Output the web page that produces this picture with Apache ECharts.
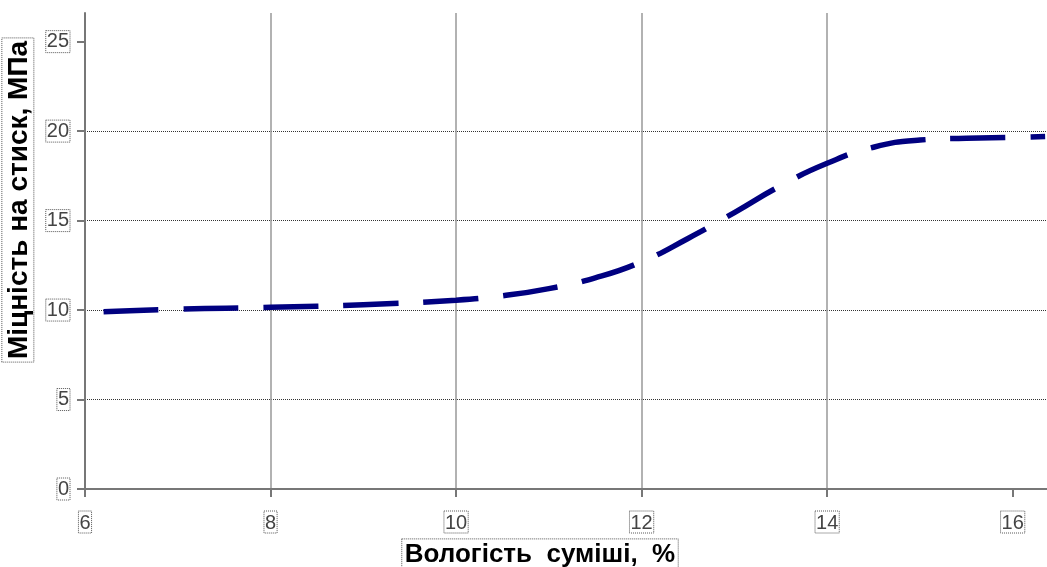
<!DOCTYPE html>
<html>
<head>
<meta charset="utf-8">
<script src="https://cdn.jsdelivr.net/npm/echarts@6/dist/echarts.min.js"></script>
<style>html,body{margin:0;padding:0;background:#fff}#c{width:1047px;height:567px}</style>
</head>
<body>
<div id="c"></div>
<script>
const xValues = [6.2, 7, 8, 9, 10, 10.5, 11, 11.5, 12, 12.5, 13, 13.5, 14, 14.5, 15, 15.5, 16, 16.35];
const yValues = [9.9, 10.05, 10.15, 10.3, 10.55, 10.8, 11.2, 11.8, 12.7, 14.0, 15.45, 16.95, 18.2, 19.1, 19.5, 19.6, 19.65, 19.7];
const xTicks = [6, 8, 10, 12, 14, 16];
const yTicks = [0, 5, 10, 15, 20, 25];
const xTitle = 'Вологість  суміші,  %';
const yTitle = 'Міцність на стиск, МПа';

const boxLabel = {
  fontFamily: 'Liberation Sans, Arial, sans-serif',
  fontSize: 20,
  color: '#444',
  borderColor: '#555',
  borderWidth: 1,
  borderType: 'dotted',
  padding: [2, 1, 0, 1]
};

const chart = echarts.init(document.getElementById('c'), null, {renderer: 'canvas'});
chart.setOption({
  animation: false,
  backgroundColor: '#fff',
  grid: {left: 85, right: 0, top: 13, bottom: 78, containLabel: false, outerBoundsMode: 'none'},
  xAxis: {
    type: 'value', min: 6, max: 16.37, interval: 2,
    axisLine: {show: true, onZero: false, lineStyle: {color: '#777', width: 2}},
    axisTick: {show: true, length: 8, customValues: xTicks, lineStyle: {color: '#777', width: 2}},
    axisLabel: Object.assign({margin: 22, customValues: xTicks}, boxLabel),
    splitLine: {show: true, showMinLine: false, showMaxLine: false, lineStyle: {color: '#999', width: 1.5, type: 'solid'}},
    name: '{t|' + xTitle + '}{sp| }',
    nameLocation: 'middle',
    nameGap: 49,
    nameTextStyle: {
      rich: {
        t: {fontFamily: 'Liberation Sans, Arial, sans-serif', fontSize: 26, fontWeight: 'bold', color: '#000',
            borderColor: '#555', borderWidth: 1, borderType: 'dotted', padding: [3, 3, 1, 3]},
        sp: {width: 52, fontSize: 26}
      }
    }
  },
  yAxis: {
    type: 'value', min: 0, max: 26.6, interval: 5,
    axisLine: {show: true, onZero: false, lineStyle: {color: '#777', width: 2}},
    axisTick: {show: true, length: 8, customValues: yTicks, lineStyle: {color: '#777', width: 2}},
    axisLabel: Object.assign({margin: 15, customValues: yTicks}, boxLabel),
    splitLine: {show: true, showMinLine: false, showMaxLine: false, lineStyle: {color: '#333', width: 1, type: [1, 1]}},
    name: '{sp| }{t|' + yTitle + '}',
    nameLocation: 'middle',
    nameGap: 48,
    nameRotate: 90,
    nameTextStyle: {
      rich: {
        t: {fontFamily: 'Liberation Sans, Arial, sans-serif', fontSize: 28, fontWeight: 'bold', color: '#000',
            borderColor: '#555', borderWidth: 1, borderType: 'dotted', padding: [3, 3, 1, 3]},
        sp: {width: 102, fontSize: 26}
      }
    }
  },
  series: [{
    type: 'line',
    data: xValues.map((x, i) => [x, yValues[i]]),
    smooth: true,
    showSymbol: false,
    symbol: 'none',
    lineStyle: {color: '#000080', width: 5.5, type: [55, 25], cap: 'butt'}
  }]
});
</script>
</body>
</html>
